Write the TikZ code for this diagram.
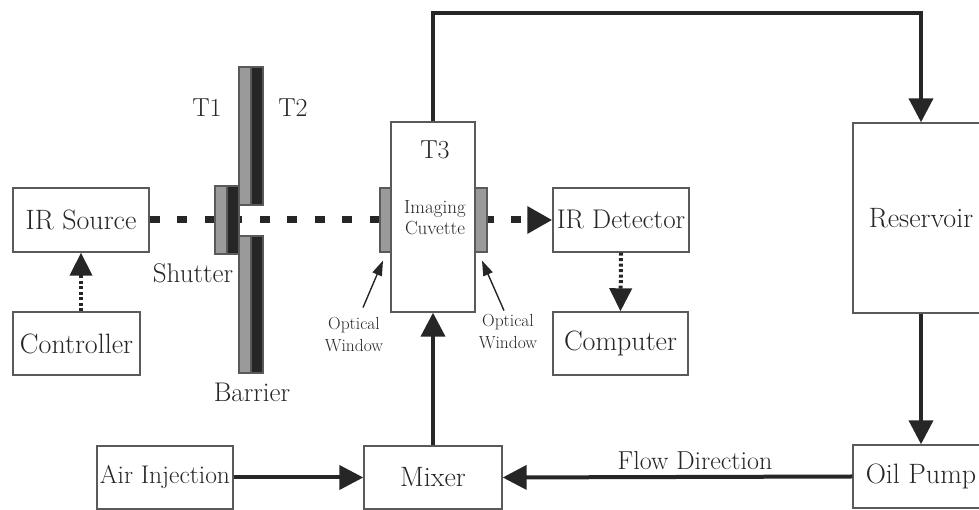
\documentclass[tikz,border=0pt]{standalone}
\usepackage{xcolor}
\usepackage{tikz}
\usetikzlibrary{arrows.meta}

\definecolor{inkgray}{HTML}{262626}
\definecolor{edgegray}{HTML}{5A5A5A}
\definecolor{glassgray}{HTML}{9A9A9A}

\begin{document}
\begin{tikzpicture}[x=1pt,y=1pt,
    box/.style={draw=edgegray, line width=1.4pt, fill=white, text=inkgray, inner sep=0pt, font=\fontsize{28}{32}\selectfont},
    tag/.style={text=inkgray, inner sep=0pt, font=\fontsize{27}{32}\selectfont},
    small/.style={text=inkgray, inner sep=0pt, align=center, font=\fontsize{17.5}{22}\selectfont},
    flow/.style={draw=inkgray, line width=4pt, -{Triangle[width=24pt,length=24pt]}},
    signal/.style={draw=inkgray, line width=4pt, dash pattern=on 3pt off 2.5pt, -{Triangle[width=22pt,length=23pt]}},
    beam/.style={draw=inkgray, line width=7pt, dash pattern=on 10pt off 17.5pt},
    pointer/.style={draw=inkgray, line width=1.4pt, -{Triangle[width=10pt,length=15pt]}},
    glass/.style={draw=edgegray, line width=1.2pt, fill=glassgray},
    plate/.style={draw=edgegray, line width=1.2pt, fill=inkgray}]

\clip (0,0) rectangle (979,510);

% left column
\node[box, minimum width=136pt, minimum height=64pt] (src) at (81,290) {IR Source};
\node[box, minimum width=127pt, minimum height=63pt] (ctrl) at (76.5,166.5) {Controller};
\draw[signal] (src.south |- ctrl.north) -- (src.south);

% optical path
\node[glass, minimum width=11pt, minimum height=64pt] (lwin) at (385.5,290) {};
\node[glass, minimum width=12pt, minimum height=64pt] (rwin) at (481,290) {};
\node[box, minimum width=136pt, minimum height=64pt, font=\fontsize{27}{32}\selectfont] (det) at (621,290) {IR Detector};
\draw[beam] (src.east) -- (lwin.west);
\draw[beam, dash phase=4pt, -{Triangle[width=26pt,length=25pt]}] (rwin.east) -- (det.west);

% barrier and shutter
\foreach \ya/\yb in {305/443, 137/274}
{
    \draw[glass] (239,\ya) rectangle (251,\yb);
    \draw[plate] (251,\ya) rectangle (263,\yb);
}
\draw[glass] (215,256) rectangle (227,324);
\draw[plate] (227,256) rectangle (239,324);

\node[tag, font=\fontsize{26}{32}\selectfont] (tone) at (207,402) {T1};
\node[tag, font=\fontsize{26}{32}\selectfont] (ttwo) at (293,402) {T2};
\node[tag] (shut) at (193,237) {Shutter};
\node[tag] (barr) at (252,118) {Barrier};

% cuvette
\node[box, minimum width=84pt, minimum height=190pt] (cuv) at (433,293) {};
\node[tag, font=\fontsize{26}{32}\selectfont] (tthree) at (435,360) {T3};
\node[small, font=\fontsize{19}{21}\selectfont] (cuvlbl) at (435,292) {Imaging\\Cuvette};
\node[glass, minimum width=11pt, minimum height=64pt] at (lwin) {};
\node[glass, minimum width=12pt, minimum height=64pt] at (rwin) {};

\node[small] (owl) at (354,175) {Optical\\Window};
\node[small] (owr) at (508,178) {Optical\\Window};
\draw[pointer] ([xshift=9pt,yshift=10pt]owl.north) -- ([xshift=-2.5pt,yshift=-8pt]lwin.south);
\draw[pointer] ([xshift=-4pt,yshift=4pt]owr.north) -- ([xshift=1pt,yshift=-8pt]rwin.south);

\node[box, minimum width=135pt, minimum height=63pt] (comp) at (620.5,166.5) {Computer};
\draw[signal] (det.south) -- (comp.north);

% oil circuit
\node[box, minimum width=136pt, minimum height=190pt] (res) at (921,292) {Reservoir};
\node[box, minimum width=136pt, minimum height=63pt] (pump) at (921,33.5) {Oil Pump};
\node[box, minimum width=138pt, minimum height=63pt] (mix) at (433,32.5) {Mixer};
\node[box, minimum width=136pt, minimum height=63pt, font=\fontsize{25.5}{30}\selectfont] (air) at (165,32.5) {Air Injection};

\coordinate (loop) at (677,497);
\draw[flow] (cuv.north) |- (loop) -| (res.north);
\draw[flow] (res.south) -- (pump.north);
\draw[flow] (pump.west) -- (mix.east);
\draw[flow] (air.east) -- (mix.west);
\draw[flow] (mix.north) -- (cuv.south);
\node[tag, font=\fontsize{26}{30}\selectfont] (flowlbl) at (695,49) {Flow Direction};

\end{tikzpicture}
\end{document}
